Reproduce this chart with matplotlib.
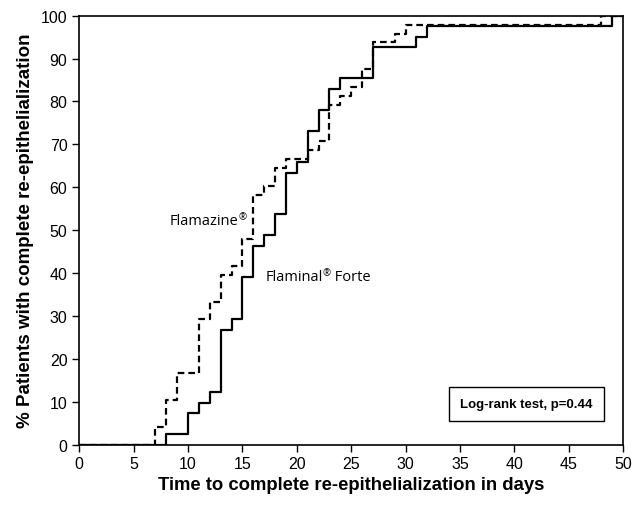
import matplotlib.pyplot as plt
import numpy as np

# Kaplan-Meier style cumulative curves (% healed by day)
flamazine_days = [0, 7, 8, 9, 11, 12, 13, 14, 15, 16, 17, 18, 19, 21, 22, 23, 24, 25, 26, 27, 29, 30, 48, 50]
flamazine_pct = [0, 4.2, 10.4, 16.7, 29.2, 33.3, 39.6, 41.7, 47.9, 58.3, 60.4, 64.6, 66.7, 68.8, 70.8,
                 79.2, 81.3, 83.3, 87.5, 93.8, 95.8, 97.9, 100, 100]

flaminal_days = [0, 8, 10, 11, 12, 13, 14, 15, 16, 17, 18, 19, 20, 21, 22, 23, 24, 27, 31, 32, 49, 50]
flaminal_pct = [0, 2.4, 7.3, 9.8, 12.2, 26.8, 29.3, 39.0, 46.3, 48.8, 53.7, 63.4, 65.9, 73.2, 78.0,
                82.9, 85.4, 92.7, 95.1, 97.6, 100, 100]

x_ticks = np.arange(0, 51, 5)
y_ticks = np.arange(0, 101, 10)

plt.rcParams['font.family'] = ['Liberation Sans', 'DejaVu Sans']

fig = plt.figure(figsize=(6.42, 5.06), dpi=100)
ax = fig.add_axes([0.1235, 0.1192, 0.847, 0.8478])

ax.step(flaminal_days, flaminal_pct, where='post', color='black', linewidth=1.6)
ax.step(flamazine_days, flamazine_pct, where='post', color='black', linewidth=1.6,
        linestyle=(0, (3, 1.8)))

ax.set_xlim(0, 50)
ax.set_ylim(0, 100)
ax.set_xticks(x_ticks)
ax.set_yticks(y_ticks)
ax.tick_params(direction='out', length=5, width=1, labelsize=11.5, colors='black')
for s in ax.spines.values():
    s.set_linewidth(1.2)

ax.set_xlabel("Time to complete re-epithelialization in days", fontsize=13.3,
              fontweight='bold', labelpad=3)
ax.set_ylabel("% Patients with complete re-epithelialization", fontsize=13.5,
              fontweight='bold', labelpad=5)

# curve labels with small superscript (R) marks
t1 = ax.text(8.3, 52.3, "Flamazine", fontsize=10.5, family='Open Sans', va='center')
ax.annotate("®", xy=(1, 0.75), xycoords=t1, fontsize=7, family='Open Sans', va='center')
t2 = ax.text(17.1, 39.3, "Flaminal", fontsize=10.5, family='Open Sans', va='center')
t3 = ax.annotate("®", xy=(1, 0.75), xycoords=t2, fontsize=7, family='Open Sans', va='center')
ax.annotate(" Forte", xy=(1, 0.5), xycoords=(t3, t2),
            fontsize=10.5, family='Open Sans', va='center')

ax.text(41.1, 9.5, "Log-rank test, p=0.44", fontsize=9.5, fontweight='bold', ha='center', va='center',
        bbox=dict(boxstyle='square,pad=0.85', facecolor='white', edgecolor='black', linewidth=1))

fig.savefig("out.png", dpi=100)
